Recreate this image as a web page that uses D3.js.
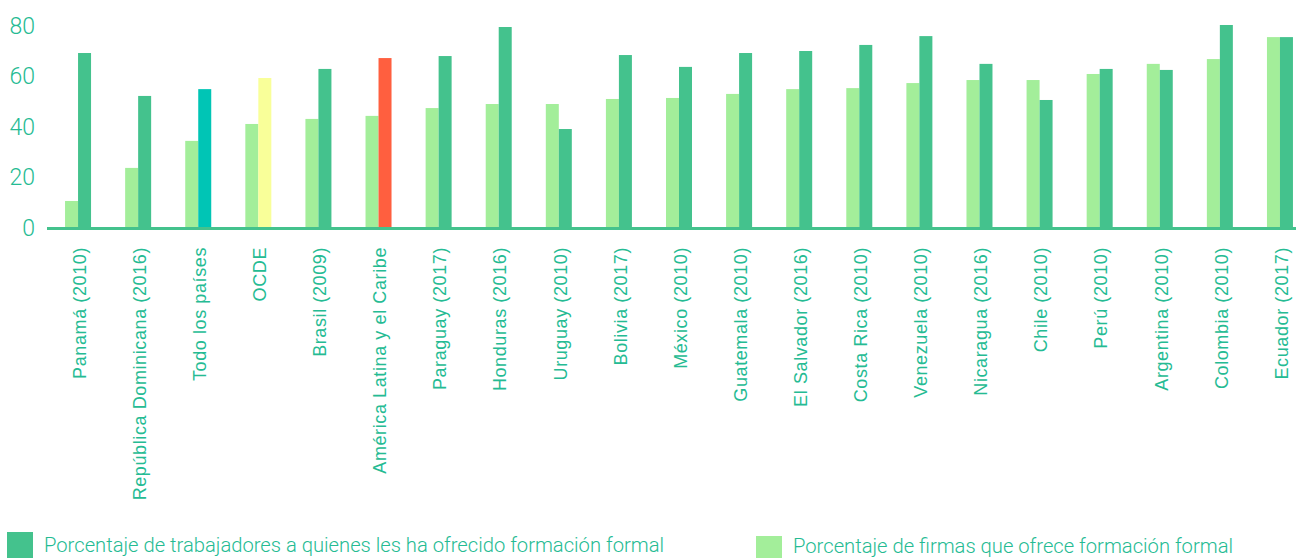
<!DOCTYPE html>
<html>
<head>
<meta charset="utf-8">
<script src="https://cdn.jsdelivr.net/npm/d3@7"></script>
<style>
  body { margin: 0; background: #fff; }
  svg { display: block; }
  .tick-y text { font-family: Roboto, sans-serif; font-weight: 300; }
  .axis-x text { font-family: "Liberation Sans", Arial, sans-serif; letter-spacing: 0.6px; }
  .legend text { font-family: Roboto, sans-serif; font-weight: 300; }
</style>
</head>
<body>
<svg id="chart" width="1296" height="558"></svg>
<script>
// data
var countries = ['Panamá (2010)', 'República Dominicana (2016)', 'Todo los países', 'OCDE',
  'Brasil (2009)', 'América Latina y el Caribe', 'Paraguay (2017)', 'Honduras (2016)',
  'Uruguay (2010)', 'Bolivia (2017)', 'México (2010)', 'Guatemala (2010)', 'El Salvador (2016)',
  'Costa Rica (2010)', 'Venezuela (2010)', 'Nicaragua (2016)', 'Chile (2010)', 'Perú (2010)',
  'Argentina (2010)', 'Colombia (2010)', 'Ecuador (2017)'];

var firmas = [10.7, 23.8, 34.5, 41.2, 43.2, 44.4, 47.5, 49.1, 49.1, 51.1, 51.5, 53.1, 55.0,
  55.4, 57.4, 58.6, 58.6, 61.0, 65.0, 66.9, 75.6];

var trabajadores = [69.3, 52.3, 55.0, 59.4, 63.0, 67.3, 68.1, 79.6, 39.2, 68.5, 63.8, 69.3, 70.1,
  72.5, 76.0, 65.0, 50.7, 63.0, 62.6, 80.4, 75.6];

var yTicks = [0, 20, 40, 60, 80];

var legendLabels = ['Porcentaje de trabajadores a quienes les ha ofrecido formación formal',
  'Porcentaje de firmas que ofrece formación formal'];

//------------------------------------------------------------
// colours

var textColor = '#25bb93'
  , darkGreen = '#44c28d'
  , lightGreen = '#a3ee9a'
  , highlight = { 'Todo los países': '#00c5b5', 'OCDE': '#f9ff99', 'América Latina y el Caribe': '#ff5f3f' }
  ;

var svg = d3.select('#chart');

var x = d3.scaleBand()
    .domain(countries)
    .range([48, 1310])
    .padding(0);

var x1 = d3.scaleBand()
    .domain(['firmas', 'trabajadores'])
    .range([x.bandwidth() / 2 - 13, x.bandwidth() / 2 + 13]);

var y = d3.scaleLinear()
    .domain([0, 80])
    .range([228, 26]);

var rows = countries.map(function (c, i) {
  return { key: c, firmas: firmas[i], trabajadores: trabajadores[i] };
});

// bars
var groups = svg.append('g').attr('class', 'bars')
  .selectAll('g')
  .data(rows)
  .enter().append('g')
    .attr('transform', function (d) { return 'translate(' + x(d.key) + ',0)'; });

groups.append('rect')
    .attr('x', x1('firmas'))
    .attr('width', x1.bandwidth())
    .attr('y', function (d) { return y(d.firmas); })
    .attr('height', function (d) { return y(0) - y(d.firmas); })
    .attr('fill', lightGreen);

groups.append('rect')
    .attr('x', x1('trabajadores'))
    .attr('width', x1.bandwidth())
    .attr('y', function (d) { return y(d.trabajadores); })
    .attr('height', function (d) { return y(0) - y(d.trabajadores); })
    .attr('fill', function (d) { return highlight[d.key] || darkGreen; });

// x axis
var xAxis = svg.append('g')
    .attr('class', 'axis-x')
    .attr('transform', 'translate(0,' + y(0) + ')')
    .call(d3.axisBottom(x).tickSize(0).tickPadding(0));

xAxis.select('.domain')
    .attr('d', 'M47,0.5H1296')
    .attr('stroke', darkGreen)
    .attr('stroke-width', 3);

xAxis.selectAll('text')
    .attr('fill', textColor)
    .attr('font-size', 18)
    .attr('text-anchor', 'end')
    .attr('dy', null)
    .attr('transform', 'translate(3,19) rotate(-90)')
    .attr('x', 0)
    .attr('y', 0)
    .attr('dominant-baseline', 'middle');

// y axis
var yAxis = svg.append('g')
    .attr('class', 'tick-y')
    .attr('transform', 'translate(35,0)')
    .call(d3.axisLeft(y).tickValues(yTicks).tickSize(0).tickPadding(0));

yAxis.select('.domain').remove();
yAxis.selectAll('text')
    .attr('fill', textColor)
    .attr('font-size', 23);

// legend
var legendPos = [{ x: 7, y: 532 }, { x: 756, y: 536 }];
var legendFill = [darkGreen, lightGreen];

var legend = svg.append('g').attr('class', 'legend')
  .selectAll('g')
  .data(legendLabels)
  .enter().append('g')
    .attr('transform', function (d, i) { return 'translate(' + legendPos[i].x + ',' + legendPos[i].y + ')'; });

legend.append('rect')
    .attr('width', 26)
    .attr('height', function (d, i) { return i === 0 ? 26 : 22; })
    .attr('fill', function (d, i) { return legendFill[i]; });

legend.append('text')
    .attr('x', 37)
    .attr('y', function (d, i) { return i === 0 ? 20 : 17; })
    .attr('fill', textColor)
    .attr('font-size', 20.2)
    .text(function (d) { return d; });
</script>
</body>
</html>
